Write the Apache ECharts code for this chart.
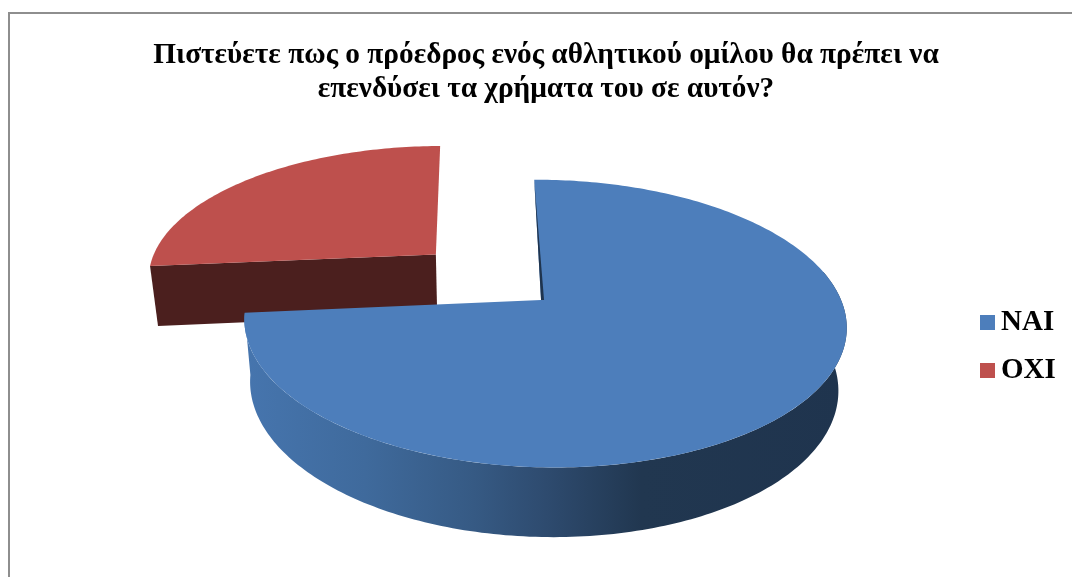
<!DOCTYPE html>
<html>
<head>
<meta charset="utf-8">
<style>html,body{margin:0;padding:0;background:#fff}#chart{width:1072px;height:577px}</style>
<script src="https://cdn.jsdelivr.net/npm/echarts@6/dist/echarts.min.js"></script>
</head>
<body>
<div id="chart"></div>
<script>
// Survey answers
const categories = ['ΝΑΙ', 'ΟΧΙ'];
const shares = [73.7, 26.3];
const explode = [0, 0.51];
const titleText = 'Πιστεύετε πως ο πρόεδρος ενός αθλητικού ομίλου θα πρέπει να\nεπενδύσει τα χρήματα του σε αυτόν?';

const topColors = ['#4d7ebb', '#be504d'];
const sideDark = ['#1f344e', '#4b1f1e'];
// Horizontal nudge of each slice's hub, in pixels
const hubNudge = [-3, 1];

// Perspective set-up of the tilted pie disc
const view = { vx: 490, cy: 300, rx: 297, ry: 140, depth: 63, far: 0.164, sink: 0.024, shiftX: 0.182, start: -0.5 };

function project(X, Y, Z) {
  const w = (1 + view.far * Y) * (1 + view.sink * Z);
  return [
    view.vx + view.rx * (X + view.shiftX) / w,
    view.cy + (-view.ry * Y + view.depth * Z) / w
  ];
}

const total = shares.reduce((a, b) => a + b, 0);

function sliceAngles(i) {
  const before = shares.slice(0, i).reduce((a, b) => a + b, 0);
  return [view.start + before / total * 360, view.start + (before + shares[i]) / total * 360];
}

function rad(d) { return d * Math.PI / 180; }

function rimPoint(deg, ox, oy, Z) {
  return project(ox + Math.sin(rad(deg)), oy + Math.cos(rad(deg)), Z);
}

function arc(a, b, ox, oy, Z) {
  const pts = [];
  const n = Math.max(2, Math.ceil(Math.abs(b - a)));
  for (let k = 0; k <= n; k++) pts.push(rimPoint(a + (b - a) * k / n, ox, oy, Z));
  return pts;
}

const blueWall = {
  type: 'linear', x: 245, y: 0, x2: 846, y2: 0, global: true,
  colorStops: [
    { offset: 0, color: '#4675ae' },
    { offset: 0.2, color: '#3f6a9c' },
    { offset: 0.38, color: '#365a84' },
    { offset: 0.5, color: '#2e4b6f' },
    { offset: 0.66, color: '#213750' },
    { offset: 1, color: '#1f344e' }
  ]
};

function polygon(points, fill) {
  return { type: 'polygon', shape: { points }, style: { fill }, silent: true };
}

function renderSlice(i) {
  return function () {
    const [a, b] = sliceAngles(i);
    const mid = rad((a + b) / 2);
    const ox = explode[i] * Math.sin(mid);
    const oy = explode[i] * Math.cos(mid);
    const c0 = project(ox, oy, 0);
    const c1 = project(ox, oy, 1);
    const centre = [c0[0] + hubNudge[i], c0[1]];
    const centreLow = [c1[0] + hubNudge[i], c1[1]];
    const children = [];
    if (i === 0) {
      // Outer wall along the near half of the disc
      const wallEnd = b;
      const wallStart = 78;
      children.push(polygon(
        arc(wallStart, wallEnd, ox, oy, 0).concat(arc(wallEnd, wallStart, ox, oy, 1)),
        blueWall
      ));
    } else {
      // Cut face that looks towards the viewer
      children.push(polygon(
        [rimPoint(a, ox, oy, 0), centre, centreLow, rimPoint(a, ox, oy, 1)],
        sideDark[i]
      ));
    }
    children.push(polygon(arc(a, b, ox, oy, 0).concat([centre]), topColors[i]));
    if (i === 0) {
      // Sliver of the inner cut face next to the first edge
      children.push(polygon(
        [rimPoint(a, ox, oy, 0), [centre[0] + 3, centre[1]], [centre[0], centre[1]]],
        sideDark[i]
      ));
    }
    return { type: 'group', children };
  };
}

const chart = echarts.init(document.getElementById('chart'));
chart.setOption({
  animation: false,
  backgroundColor: '#ffffff',
  title: {
    text: titleText,
    left: 541,
    top: 33,
    textAlign: 'center',
    textStyle: {
      fontFamily: 'Liberation Serif',
      fontWeight: 'bold',
      fontSize: 29.3,
      lineHeight: 34,
      color: '#000'
    }
  },
  legend: {
    orient: 'vertical',
    left: 980,
    top: 308,
    padding: 0,
    icon: 'rect',
    itemWidth: 15,
    itemHeight: 15,
    itemGap: 19,
    data: categories,
    selectedMode: false,
    textStyle: {
      fontFamily: 'Liberation Serif',
      fontWeight: 'bold',
      fontSize: 29,
      color: '#000',
      padding: [0, 0, 0, 1]
    }
  },
  graphic: [{
    type: 'rect',
    silent: true,
    shape: { x: 9, y: 13, width: 1200, height: 700 },
    style: { fill: 'none', stroke: '#8e8e8e', lineWidth: 2 }
  }],
  series: categories.map((name, i) => ({
    type: 'custom',
    name,
    coordinateSystem: 'none',
    z: i === 0 ? 3 : 2,
    itemStyle: { color: topColors[i] },
    data: [shares[i]],
    renderItem: renderSlice(i)
  }))
});
</script>
</body>
</html>
